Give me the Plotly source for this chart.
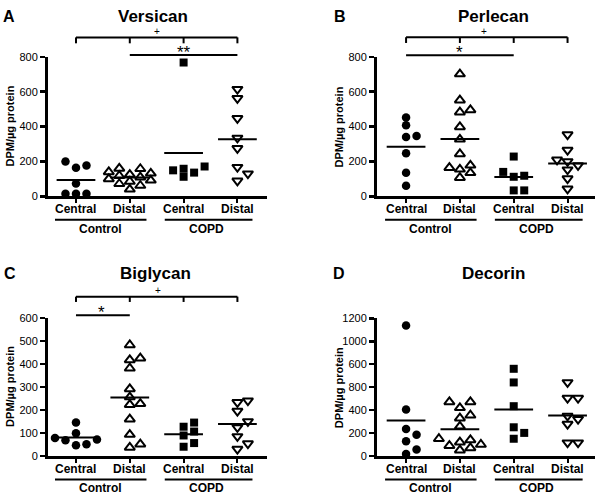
import numpy as np
import plotly.graph_objects as go

W, H = 600, 501
FONT = "Liberation Sans, Arial, sans-serif"

# ---------------- data ----------------
categories = ["Central", "Distal", "Central", "Distal"]
groups = ["Control", "COPD"]
panel_titles = ["Versican", "Perlecan", "Biglycan", "Decorin"]
panel_letters = ["A", "B", "C", "D"]

versican_ctrl_central = [177, 164, 199, 74, 15, 15, 15]
versican_ctrl_distal = [160, 158, 140, 132, 125, 118, 110, 100, 92, 85, 72, 62, 40]
versican_copd_central = [767, 149, 171, 112, 158, 136]
versican_copd_distal = [562, 614, 447, 335, 275, 167, 130, 89]

perlecan_ctrl_central = [346, 407, 452, 340, 247, 135, 60]
perlecan_ctrl_distal = [701, 551, 482, 495, 398, 327, 243, 155, 178, 164, 135, 107]
perlecan_copd_central = [228, 118, 112, 140, 34, 34]
perlecan_copd_distal = [354, 265, 209, 177, 200, 153, 102, 43]

biglycan_ctrl_central = [145, 99, 78, 68, 71, 47, 51]
biglycan_ctrl_distal = [482, 417, 425, 381, 291, 256, 227, 223, 160, 93, 51, 37]
biglycan_copd_central = [145, 106, 127, 89, 40, 56]
biglycan_copd_distal = [233, 240, 195, 124, 150, 85, 54, 30]

decorin_ctrl_central = [1138, 406, 184, 235, 128, 57, 17]
decorin_ctrl_distal = [471, 420, 471, 355, 329, 258, 150, 140, 120, 100, 90, 70, 50]
decorin_copd_central = [760, 641, 434, 250, 201, 150]
decorin_copd_distal = [641, 505, 505, 321, 278, 349, 116, 116]

y_ticks_versican = [0, 200, 400, 600, 800]
y_ticks_perlecan = [0, 200, 400, 600, 800]
y_ticks_biglycan = [0, 100, 200, 300, 400, 500, 600]
y_ticks_decorin = [0, 200, 400, 600, 800, 1000, 1200]
# labels as printed in the original figure (600/800 swapped in panel D)
y_ticktext_decorin = ["0", "200", "400", "800", "600", "1000", "1200"]

panels = [
    [versican_ctrl_central, versican_ctrl_distal, versican_copd_central, versican_copd_distal],
    [perlecan_ctrl_central, perlecan_ctrl_distal, perlecan_copd_central, perlecan_copd_distal],
    [biglycan_ctrl_central, biglycan_ctrl_distal, biglycan_copd_central, biglycan_copd_distal],
    [decorin_ctrl_central, decorin_ctrl_distal, decorin_copd_central, decorin_copd_distal],
]
yticks = [y_ticks_versican, y_ticks_perlecan, y_ticks_biglycan, y_ticks_decorin]
yticktexts = [[str(v) for v in y_ticks_versican], [str(v) for v in y_ticks_perlecan],
              [str(v) for v in y_ticks_biglycan], y_ticktext_decorin]

# ---------------- layout geometry (pixels) ----------------
boxes = [(48, 267, 195, 52), (377, 595, 195, 52), (48, 267, 461, 319.5), (377, 595, 461, 320)]
xranges = [(-0.52, 3.55), (-0.54, 3.51), (-0.52, 3.55), (-0.54, 3.51)]
title_pos = [(153, 11), (493, 11), (155, 274), (493, 274)]
letter_pos = [(9, 11), (340, 11), (10, 274), (339, 274)]

symbols = ["circle", "triangle-up-open", "square", "triangle-down-open"]
sizes = [8.5, 9, 8, 9]


def swarm(values, px_per_unit, px_per_cat, step_px=10.5, dmin=7.5, maxk=2):
    vals = np.asarray(values, dtype=float)
    order = np.argsort(vals, kind="stable")
    placed = []
    offs = np.zeros(len(vals))
    cands = [0.0]
    for j in range(1, maxk + 1):
        cands += [j * step_px, -j * step_px]
    for i in order:
        y = vals[i] * px_per_unit
        best, bestd = 0.0, -1
        for c in cands:
            d = min([np.hypot(c - px, y - py) for px, py in placed] or [1e9])
            if d >= dmin:
                best = c
                break
            if d > bestd:
                best, bestd = c, d
        placed.append((best, y))
        offs[i] = best / px_per_cat
    return offs


fig = go.Figure()
shapes = []
annotations = []


def paper_y(py):
    return 1 - py / H


for k in range(4):
    xl, xr, yb, yt = boxes[k]
    r0, r1 = xranges[k]
    ymax = yticks[k][-1]
    px_per_cat = (xr - xl) / (r1 - r0)
    px_per_unit = (yb - yt) / ymax
    xa = "x" if k == 0 else f"x{k+1}"
    ya = "y" if k == 0 else f"y{k+1}"
    axkey = "" if k == 0 else str(k + 1)

    for g in range(4):
        vals = panels[k][g]
        offs = swarm(vals, px_per_unit, px_per_cat)
        sym = symbols[g]
        is_open = sym.endswith("open")
        fig.add_trace(go.Scatter(
            x=g + offs, y=vals, mode="markers", xaxis=xa, yaxis=ya,
            cliponaxis=False, showlegend=False, hoverinfo="skip",
            marker=dict(symbol=sym, size=sizes[g], color="black",
                        line=dict(color="black", width=2 if is_open else 0)),
        ))
        m = float(np.mean(vals))
        fig.add_trace(go.Scatter(
            x=[g - 0.36, g + 0.36], y=[m, m], mode="lines", xaxis=xa, yaxis=ya,
            cliponaxis=False, showlegend=False, hoverinfo="skip",
            line=dict(color="black", width=2),
        ))

    fig.layout["xaxis" + axkey] = dict(
        domain=[xl / W, xr / W], range=[r0, r1], anchor=ya,
        tickvals=[0, 1, 2, 3], showticklabels=False,
        ticks="outside", ticklen=4, tickwidth=2, tickcolor="black",
        showline=True, linewidth=3, linecolor="black",
        showgrid=False, zeroline=False, fixedrange=True,
    )
    fig.layout["yaxis" + axkey] = dict(
        domain=[paper_y(yb), paper_y(yt)], range=[0, ymax], anchor=xa,
        tickvals=yticks[k], ticktext=yticktexts[k],
        ticks="outside", ticklen=5, tickwidth=2.5, tickcolor="black",
        showline=True, linewidth=3, linecolor="black",
        showgrid=False, zeroline=False, fixedrange=True,
        tickfont=dict(family=FONT, size=11, color="black"),
    )

    def xd(c):
        return (c - r0) / (r1 - r0)

    xdref = xa + " domain"
    ydref = ya + " domain"

    # category labels
    for g, cat in enumerate(categories):
        annotations.append(dict(text=f"<b>{cat}</b>", xref=xdref, yref="paper",
                                x=xd(g), y=paper_y(yb + 13), showarrow=False,
                                font=dict(family=FONT, size=12, color="black"),
                                xanchor="center", yanchor="middle"))

    # group underlines and labels
    for (c0, c1, lab, cx) in [(-0.39, 1.31, groups[0], 0.46), (1.65, 3.28, groups[1], 2.42)]:
        shapes.append(dict(type="line", xref=xdref, yref="paper",
                           x0=xd(c0), x1=xd(c1), y0=paper_y(yb + 24), y1=paper_y(yb + 24),
                           line=dict(color="black", width=2)))
        annotations.append(dict(text=f"<b>{lab}</b>", xref=xdref, yref="paper",
                                x=xd(cx), y=paper_y(yb + 33), showarrow=False,
                                font=dict(family=FONT, size=12, color="black"),
                                xanchor="center", yanchor="middle"))

    # title, letter, y-axis title
    tx, ty = title_pos[k]
    annotations.append(dict(text=f"<b>{panel_titles[k]}</b>", xref="paper", yref="paper",
                            x=tx / W, y=paper_y(ty), showarrow=False,
                            font=dict(family=FONT, size=17, color="black"),
                            xanchor="center", yanchor="middle"))
    lx, ly = letter_pos[k]
    annotations.append(dict(text=f"<b>{panel_letters[k]}</b>", xref="paper", yref="paper",
                            x=lx / W, y=paper_y(ly), showarrow=False,
                            font=dict(family=FONT, size=16, color="black"),
                            xanchor="center", yanchor="middle"))
    annotations.append(dict(text="<b>DPM/µg protein</b>", xref="paper", yref=ydref,
                            x=(xl - 38) / W, y=0.5, showarrow=False, textangle=-90,
                            font=dict(family=FONT, size=11, color="black"),
                            xanchor="center", yanchor="middle"))

    # significance brackets
    def bracket(cs, ytop, ytick, text, tx, ty):
        shapes.append(dict(type="line", xref=xdref, yref=ydref, x0=xd(cs[0]), x1=xd(cs[-1]),
                           y0=ytop / ymax, y1=ytop / ymax, line=dict(color="black", width=2)))
        for c in cs:
            shapes.append(dict(type="line", xref=xdref, yref=ydref, x0=xd(c), x1=xd(c),
                               y0=ytop / ymax, y1=ytick / ymax, line=dict(color="black", width=2)))
        annotations.append(dict(text=text, xref=xdref, yref=ydref, x=xd(tx), y=ty / ymax,
                                showarrow=False, font=dict(family=FONT, size=10, color="black"),
                                xanchor="center", yanchor="middle"))

    def sigline(c0, c1, yv, text, tx):
        shapes.append(dict(type="line", xref=xdref, yref=ydref, x0=xd(c0), x1=xd(c1),
                           y0=yv / ymax, y1=yv / ymax, line=dict(color="black", width=2)))
        annotations.append(dict(text=text, xref=xdref, yref=ydref, x=xd(tx), y=yv / ymax,
                                showarrow=False, font=dict(family=FONT, size=17, color="black"),
                                xanchor="center", yanchor="bottom", yshift=-9))

    if k == 0:
        bracket([0, 1, 2, 3], 911, 877, "+", 1.5, 945)
        sigline(1, 3, 810, "**", 2.0)
    elif k == 1:
        bracket([0, 1, 2, 3], 912, 879, "+", 1.45, 946)
        sigline(0, 2, 809, "*", 1.0)
    elif k == 2:
        bracket([0, 1, 2, 3], 692, 669, "+", 1.52, 719)
        sigline(0, 1, 611, "*", 0.47)

fig.update_layout(
    width=W, height=H, margin=dict(l=0, r=0, t=0, b=0),
    paper_bgcolor="white", plot_bgcolor="white",
    shapes=shapes, annotations=annotations, showlegend=False,
    font=dict(family=FONT, color="black"),
)

fig.write_html(
    "out.html",
    config={"displayModeBar": False, "staticPlot": True},
    post_script="document.body.style.margin='0';document.body.style.overflow='hidden';",
)
